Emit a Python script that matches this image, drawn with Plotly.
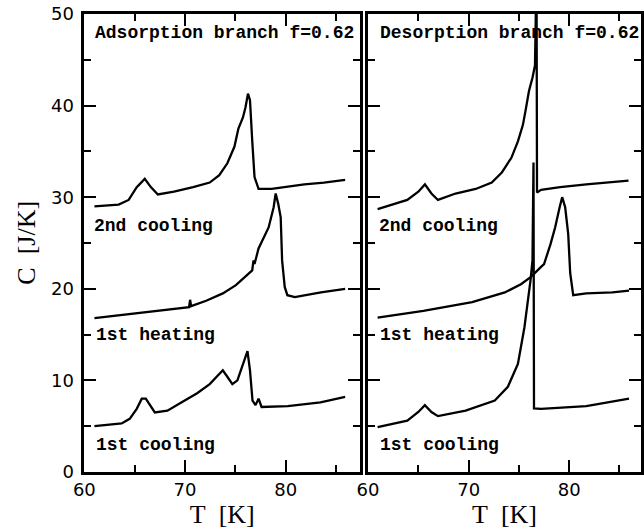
import plotly.graph_objects as go

# ---------------- data ----------------
# Adsorption branch (left panel)
ads_c2_T = [61.0, 63.4, 64.4, 65.2, 66.0, 66.6, 67.3, 68.9, 70.8, 72.45, 73.4, 74.2, 74.9, 75.3, 75.75, 76.0, 76.25, 76.45, 76.67, 76.9, 77.3, 78.6, 81.85, 83.8, 85.9]
ads_c2_C = [29.0, 29.2, 29.7, 31.1, 32.0, 31.1, 30.3, 30.6, 31.1, 31.6, 32.4, 33.7, 35.5, 37.5, 38.7, 39.8, 41.3, 40.6, 36.2, 32.2, 30.9, 30.9, 31.4, 31.6, 31.9]

ads_h1_T = [61.0, 65.6, 70.4, 70.5, 70.6, 72.1, 73.75, 75.05, 76.0, 76.67, 76.8, 76.9, 77.3, 78.3, 78.8, 79.0, 79.25, 79.5, 79.64, 79.9, 80.16, 80.9, 83.5, 85.9]
ads_h1_C = [16.8, 17.4, 18.0, 18.8, 18.1, 18.7, 19.5, 20.4, 21.3, 22.0, 23.1, 22.7, 24.4, 26.7, 28.9, 30.4, 29.3, 27.8, 23.1, 20.2, 19.3, 19.1, 19.6, 20.0]

ads_c1_T = [61.0, 63.7, 64.5, 65.2, 65.7, 66.1, 67.0, 68.25, 69.5, 71.2, 72.45, 73.4, 73.75, 74.2, 74.7, 75.2, 75.7, 76.2, 76.45, 76.7, 77.0, 77.3, 77.6, 80.2, 83.45, 85.9]
ads_c1_C = [5.0, 5.3, 5.8, 6.9, 8.0, 8.0, 6.5, 6.7, 7.5, 8.6, 9.6, 10.7, 11.1, 10.4, 9.6, 10.0, 11.6, 13.2, 11.1, 7.8, 7.3, 8.0, 7.1, 7.2, 7.6, 8.2]

# Desorption branch (right panel)
des_c2_T = [60.95, 63.9, 65.0, 65.65, 66.3, 66.95, 68.7, 70.7, 72.3, 73.3, 73.6, 74.25, 74.9, 75.4, 75.7, 76.0, 76.36, 76.6, 76.75, 76.8, 77.2, 79.1, 81.7, 85.9]
des_c2_C = [28.7, 29.7, 30.6, 31.4, 30.4, 29.7, 30.4, 30.9, 31.6, 32.7, 33.2, 34.3, 36.1, 37.9, 39.7, 41.6, 43.1, 44.4, 55.0, 30.5, 30.8, 31.1, 31.4, 31.8]

des_h1_T = [60.95, 65.5, 70.35, 73.6, 75.2, 76.2, 77.2, 77.5, 78.15, 78.6, 79.05, 79.3, 79.6, 79.9, 80.1, 80.4, 81.7, 84.3, 85.95]
des_h1_C = [16.85, 17.6, 18.55, 19.6, 20.5, 21.3, 22.4, 22.7, 24.9, 26.7, 28.9, 30.0, 28.9, 26.0, 21.7, 19.3, 19.5, 19.6, 19.8]

des_c1_T = [60.95, 63.9, 65.0, 65.65, 66.3, 66.95, 69.7, 72.6, 73.9, 74.9, 75.55, 75.9, 76.15, 76.35, 76.45, 76.5, 77.2, 81.7, 85.95]
des_c1_C = [4.9, 5.6, 6.55, 7.3, 6.55, 6.1, 6.7, 7.8, 9.3, 11.8, 15.8, 18.7, 20.9, 23.1, 33.8, 6.95, 6.9, 7.2, 8.0]

x_ticks = [60, 70, 80]
y_ticks = [0, 10, 20, 30, 40, 50]

panel_titles = ["Adsorption branch f=0.62", "Desorption branch f=0.62"]
curve_labels = ["2nd cooling", "1st heating", "1st cooling"]
label_pos_T = [[60.8, 61.0, 61.0], [60.9, 61.0, 61.0]]
label_pos_C = [26.9, 15.0, 3.0]

# ---------------- figure ----------------
fig = go.Figure()
line_style = dict(color="black", width=2.3)
for T, C in [(ads_c2_T, ads_c2_C), (ads_h1_T, ads_h1_C), (ads_c1_T, ads_c1_C)]:
    fig.add_trace(go.Scatter(x=T, y=C, mode="lines", line=line_style, xaxis="x", yaxis="y", showlegend=False))
for T, C in [(des_c2_T, des_c2_C), (des_h1_T, des_h1_C), (des_c1_T, des_c1_C)]:
    fig.add_trace(go.Scatter(x=T, y=C, mode="lines", line=line_style, xaxis="x2", yaxis="y2", showlegend=False))

tickfont = dict(family="DejaVu Sans", size=18, color="black")
titlefont = dict(family="Liberation Serif", size=26, color="black")

def axis_common():
    return dict(
        showline=True, linewidth=2.5, linecolor="black", mirror="ticks",
        ticks="inside", ticklen=12, tickwidth=2, tickcolor="black",
        minor=dict(dtick=5, ticklen=7, tickwidth=2, ticks="inside", tickcolor="black"),
        showgrid=False, zeroline=False, tickfont=tickfont,
    )

W = 644.0
fig.update_layout(
    width=644, height=529,
    margin=dict(l=0, r=0, t=14, b=57),
    plot_bgcolor="white", paper_bgcolor="white",
    xaxis=dict(**axis_common(), domain=[75 / W, 357 / W], range=[60, 87.4],
               tickvals=x_ticks, anchor="y",
               title=dict(text="T\u00a0\u00a0[K]", font=titlefont, standoff=4)),
    yaxis=dict(**axis_common(), domain=[0, 1], range=[0, 50], tickvals=y_ticks, anchor="x",
               ticklabelstandoff=4),
    xaxis2=dict(**axis_common(), domain=[365 / W, 1.0], range=[60, 87.14],
                tickvals=x_ticks, anchor="y2",
                title=dict(text="T\u00a0\u00a0[K]", font=titlefont, standoff=4)),
    yaxis2=dict(**axis_common(), domain=[0, 1], range=[0, 50], tickvals=y_ticks, anchor="x2",
                showticklabels=False),
)

ann_font = dict(family="Liberation Mono", size=18, color="black", weight="bold")
anns = []
for i, (xr, yr) in enumerate([("x", "y"), ("x2", "y2")]):
    anns.append(dict(text=panel_titles[i], x=60.9 if i == 0 else 60.95, y=47.9, xref=xr, yref=yr,
                     xanchor="left", yanchor="middle", showarrow=False, font=ann_font))
    for j in range(3):
        anns.append(dict(text=curve_labels[j], x=label_pos_T[i][j], y=label_pos_C[j], xref=xr, yref=yr,
                         xanchor="left", yanchor="middle", showarrow=False, font=ann_font))
anns.append(dict(text="C\u00a0\u00a0[J/K]", x=15 / W, y=0.5, xref="paper", yref="paper",
                 textangle=-90, xanchor="center", yanchor="middle", showarrow=False, font=titlefont))
fig.update_layout(annotations=anns)

fig.write_html("out.html")
